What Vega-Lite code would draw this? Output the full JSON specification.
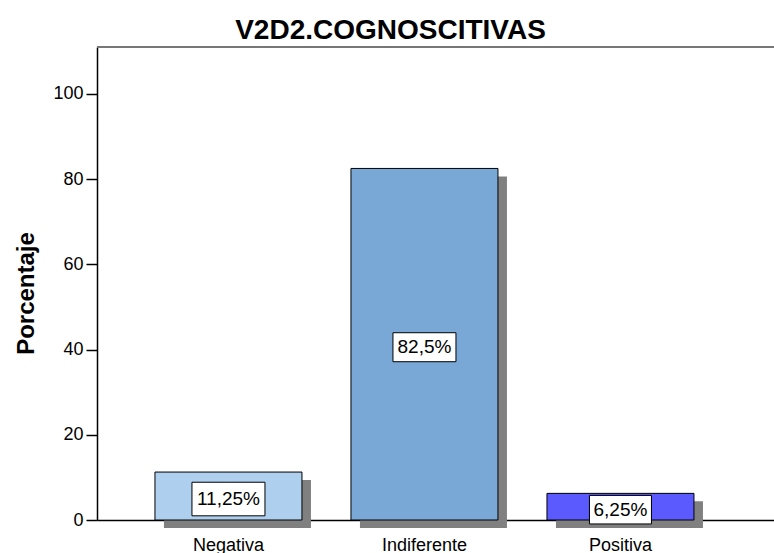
{
  "$schema": "https://vega.github.io/schema/vega-lite/v6.json",
  "width": 677,
  "height": 473,
  "autosize": {"type": "none"},
  "padding": {"left": 97, "top": 47, "right": 0, "bottom": 33},
  "background": "white",
  "config": {
    "view": {"stroke": null},
    "font": "Liberation Sans",
    "axisX": {
      "labelAngle": 0, "labelFontSize": 18, "labelColor": "black", "labelFont": "Liberation Sans",
      "tickColor": "#888888", "tickSize": 5, "domainColor": "black", "domainWidth": 1.5,
      "labelPadding": 11, "zindex": 1, "grid": false
    },
    "axisY": {
      "labelFontSize": 18, "labelColor": "black", "labelFont": "Liberation Sans",
      "tickSize": 11, "labelPadding": 3, "tickColor": "black", "tickWidth": 1.5,
      "domainColor": "black", "domainWidth": 1.5, "grid": false, "zindex": 1,
      "titleFontSize": 24, "titleFontWeight": "bold", "titleColor": "black", "titleFont": "Liberation Sans",
      "titleX": -64, "titleY": 246, "titleAngle": -90, "titleBaseline": "alphabetic", "titleAlign": "center"
    }
  },
  "title": {
    "text": "V2D2.COGNOSCITIVAS", "fontSize": 28, "fontWeight": "bold", "color": "black",
    "font": "Liberation Sans", "anchor": "middle", "frame": "group", "dx": -45, "offset": -21, "baseline": "alphabetic"
  },
  "data": {"values": [
    {"categoria": "Negativa", "porcentaje": 11.25, "etiqueta": "11,25%"},
    {"categoria": "Indiferente", "porcentaje": 82.5, "etiqueta": "82,5%"},
    {"categoria": "Positiva", "porcentaje": 6.25, "etiqueta": "6,25%"}
  ]},
  "layer": [
    {
      "mark": {"type": "bar", "color": "#808080", "xOffset": 9, "yOffset": 8, "y2Offset": 11},
      "encoding": {
        "x": {"field": "categoria", "type": "nominal", "sort": null, "title": null,
              "scale": {"paddingInner": 0.25, "paddingOuter": 0.352, "align": 0.42}},
        "y": {"field": "porcentaje", "type": "quantitative", "scale": {"domain": [0, 111]}, "axis": null}
      }
    },
    {
      "mark": {"type": "bar", "stroke": "black", "strokeWidth": 1},
      "encoding": {
        "x": {"field": "categoria", "type": "nominal", "sort": null, "title": null},
        "y": {"field": "porcentaje", "type": "quantitative", "scale": {"domain": [0, 111]},
              "axis": {"values": [0, 20, 40, 60, 80, 100], "title": "Porcentaje"}},
        "color": {"field": "categoria", "type": "nominal", "legend": null,
                  "scale": {"domain": ["Negativa", "Indiferente", "Positiva"], "range": ["#aecfee", "#79a8d6", "#5a5aff"]}}
      }
    },
    {
      "data": {"values": [{}]},
      "mark": {"type": "rule", "color": "#777777", "strokeWidth": 2},
      "encoding": {
        "y": {"datum": 111, "type": "quantitative", "scale": {"domain": [0, 111]}, "axis": null}
      }
    },
    {
      "mark": {"type": "point", "shape": "M-1,-0.46H1V0.46H-1Z", "filled": true, "fill": "white",
               "stroke": "black", "strokeWidth": 1, "opacity": 1, "yOffset": 3},
      "encoding": {
        "x": {"field": "categoria", "type": "nominal", "sort": null, "title": null},
        "y": {"field": "porcentaje", "type": "quantitative", "scale": {"domain": [0, 222]}, "axis": null},
        "size": {"field": "etiqueta", "type": "nominal", "legend": null,
                 "scale": {"type": "ordinal", "domain": ["11,25%", "82,5%", "6,25%"], "range": [5329, 3969, 3844]}}
      }
    },
    {
      "mark": {"type": "text", "fontSize": 19, "color": "black", "yOffset": 3, "baseline": "middle", "align": "center", "font": "Liberation Sans"},
      "encoding": {
        "x": {"field": "categoria", "type": "nominal", "sort": null, "title": null},
        "y": {"field": "porcentaje", "type": "quantitative", "scale": {"domain": [0, 222]}, "axis": null},
        "text": {"field": "etiqueta", "type": "nominal"}
      }
    }
  ],
  "resolve": {"scale": {"y": "independent"}}
}
